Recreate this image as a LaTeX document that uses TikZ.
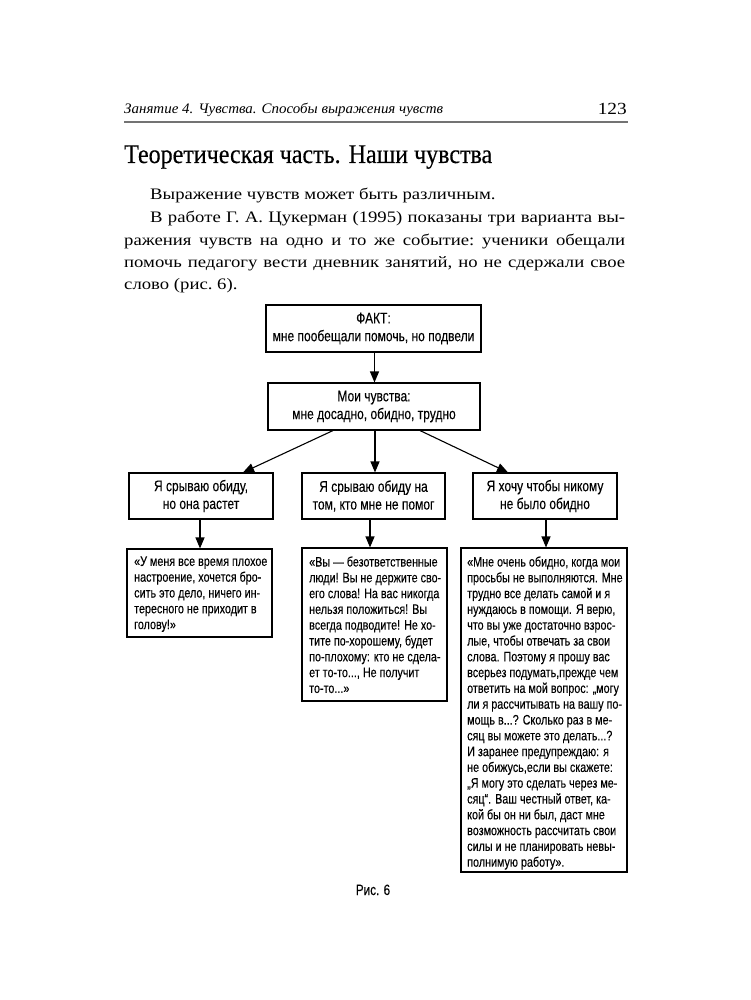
\documentclass[tikz,border=0pt]{standalone}
\usepackage{fontspec}
\usepackage{graphicx}
\usetikzlibrary{arrows.meta,shadows}
\setmainfont{Liberation Serif}
\newfontfamily\titlefont{Liberation Serif}[FakeBold=0.35]
\newfontfamily\hdrfont{Liberation Serif}
\newfontfamily\bodyfont{Liberation Serif}[FakeStretch=1.17]
\newfontfamily\diafont{Liberation Sans}[FakeStretch=0.78,FakeBold=0.1]
\tikzset{
  bodyline/.style={anchor=base west, inner sep=0, font=\bodyfont\fontsize{16}{20}\selectfont\frenchspacing},
  box/.style={draw, line width=1.1pt, align=center, inner sep=0,
    font=\diafont\fontsize{15.4}{17.8}\selectfont},
  qbox/.style={draw, line width=1.1pt, fill=white, inner sep=0,
    drop shadow={shadow xshift=1.3pt, shadow yshift=-1.3pt, opacity=1, fill=black}},
  qtext/.style={anchor=north west, inner sep=0, align=left,
    font=\diafont\fontsize{13.8}{15.8}\selectfont},
  arr/.style={-{Triangle[length=11pt,width=9pt]}, line width=1.1pt},
}
\begin{document}
\begin{tikzpicture}[x=1pt,y=-1pt]
\fill[white] (0,0) rectangle (750,1000);
\useasboundingbox (0,0) rectangle (750,1000);

% header
\node[anchor=base west, inner sep=0, font=\hdrfont\itshape\fontsize{14.5}{16}\selectfont] (hdr) at (124,114)
  {\resizebox{319pt}{\height}{Занятие 4. Чувства. Способы выражения чувств}};
\node[anchor=base east, inner sep=0, font=\hdrfont\fontsize{17}{20}\selectfont] (pg) at (627,115)
  {\resizebox{29pt}{\height}{123}};
\draw[line width=1.8pt, color=black!55] (124,122) -- (628,122);

% title
\node[anchor=base west, inner sep=0, font=\titlefont\fontsize{27}{30}\selectfont] (title) at (124,163)
  {\resizebox{368pt}{\height}{Теоретическая часть. Наши чувства}};

% body
\node[bodyline] (l1) at (150,199.5) {Выражение чувств может быть различным.};
\node[bodyline] (l2) at (150,222.5) {\makebox[475pt][s]{В работе Г. А. Цукерман (1995) показаны три варианта вы-}};
\node[bodyline] (l3) at (124,245) {\makebox[501pt][s]{ражения чувств на одно и то же событие: ученики обещали}};
\node[bodyline] (l4) at (124,267) {\makebox[501pt][s]{помочь педагогу вести дневник занятий, но не сдержали свое}};
\node[bodyline] (l5) at (124,289.5) {слово (рис. 6).};

% diagram boxes
\node[box, minimum width=215pt, minimum height=47pt] (fact) at (373.5,328.5)
  {ФАКТ:\\мне пообещали помочь, но подвели};
\node[box, minimum width=212pt, minimum height=47pt] (feel) at (374,406.5)
  {Мои чувства:\\мне досадно, обидно, трудно};
\node[box, minimum width=144pt, minimum height=46pt] (b1) at (201,496)
  {Я срываю обиду,\\но она растет};
\node[box, minimum width=143pt, minimum height=46pt] (b2) at (373.5,496)
  {Я срываю обиду на\\том, кто мне не помог};
\node[box, minimum width=144pt, minimum height=46pt] (b3) at (545,496)
  {Я хочу чтобы никому\\не было обидно};

% quote boxes
\node[qbox, minimum width=145pt, minimum height=88pt] (q1) at (199.5,593) {};
\node[qbox, minimum width=145pt, minimum height=153pt] (q2) at (374.5,624.5) {};
\node[qbox, minimum width=166pt, minimum height=324pt] (q3) at (544,710) {};

\node[qtext] (t1) at (134,556.2)
  {«У меня все время плохое\\настроение, хочется бро-\\сить это дело, ничего ин-\\тересного не приходит в\\голову!»};
\node[qtext] (t2) at (309,556.2)
  {«Вы — безответственные\\люди! Вы не держите сво-\\его слова! На вас никогда\\нельзя положиться! Вы\\всегда подводите! Не хо-\\тите по-хорошему, будет\\по-плохому: кто не сдела-\\ет то-то..., Не получит\\то-то...»};
\node[qtext] (t3) at (467,556.2)
  {«Мне очень обидно, когда мои\\просьбы не выполняются. Мне\\трудно все делать самой и я\\нуждаюсь в помощи. Я верю,\\что вы уже достаточно взрос-\\лые, чтобы отвечать за свои\\слова. Поэтому я прошу вас\\всерьез подумать,прежде чем\\ответить на мой вопрос: „могу\\ли я рассчитывать на вашу по-\\мощь в...? Сколько раз в ме-\\сяц вы можете это делать...?\\И заранее предупреждаю: я\\не обижусь,если вы скажете:\\„Я могу это сделать через ме-\\сяц“. Ваш честный ответ, ка-\\кой бы он ни был, даст мне\\возможность рассчитать свои\\силы и не планировать невы-\\полнимую работу».};

% arrows
\draw[arr] ([xshift=1pt]fact.south) -- ([xshift=1pt]fact.south |- feel.north);
\draw[arr] ([xshift=-41pt]feel.south) -- ([xshift=42pt]b1.north);
\draw[arr] ([xshift=1pt]feel.south) -- ([xshift=1pt]feel.south |- b2.north);
\draw[arr] ([xshift=46pt]feel.south) -- ([xshift=-37pt]b3.north);
\draw[arr] ([xshift=-1pt]b1.south) -- ([xshift=-1pt]b1.south |- q1.north);
\draw[arr] ([xshift=-3.5pt]b2.south) -- ([xshift=-3.5pt]b2.south |- q2.north);
\draw[arr] ([xshift=1pt]b3.south) -- ([xshift=1pt]b3.south |- q3.north);

% caption
\node[anchor=base, inner sep=0, font=\diafont\fontsize{15}{17}\selectfont] (cap) at (373,895) {Рис. 6};
\end{tikzpicture}
\end{document}
